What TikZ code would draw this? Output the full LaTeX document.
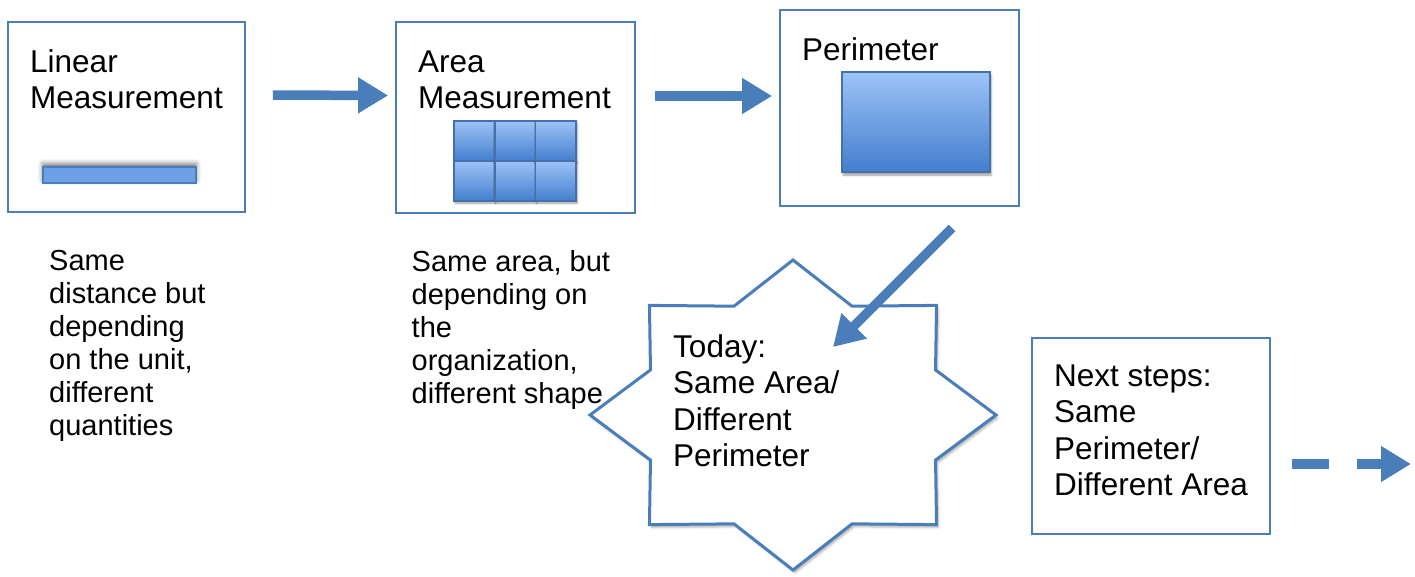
\documentclass[tikz,border=0pt]{standalone}
\usepackage{fontspec}
\setmainfont{Liberation Sans}
\usetikzlibrary{arrows.meta,shadows.blur}
\definecolor{ppblue}{RGB}{74,126,187}
\definecolor{tiletop}{RGB}{157,195,247}
\definecolor{tilebot}{RGB}{67,126,205}
\definecolor{barfill}{RGB}{110,160,230}
\tikzstyle{box}=[rectangle,draw=ppblue,line width=1.8pt,inner sep=0pt]
\tikzstyle{heading}=[anchor=north west,inner sep=0pt,align=left,font=\fontsize{31.5}{36.5}\selectfont]
\tikzstyle{note}=[anchor=north west,inner sep=0pt,align=left,font=\fontsize{29}{33}\selectfont]
\tikzstyle{bigarrow}=[draw=ppblue,line width=9.5pt,-{Triangle[length=30pt,width=34pt]}]
\tikzstyle{tile}=[draw=ppblue!90!black,line width=1.8pt,top color=tiletop,bottom color=tilebot]

\begin{document}
\begin{tikzpicture}[x=1pt,y=-1pt]
  \useasboundingbox (0,0) rectangle (1415,576);
  % boxes
  \node[box,minimum width=237pt,minimum height=190pt] (linear) at (126.5,117) {};
  \node[box,minimum width=239pt,minimum height=191pt] (area) at (515.5,117.5) {};
  \node[box,minimum width=239pt,minimum height=196pt] (perim) at (899.5,108) {};
  \node[box,minimum width=238pt,minimum height=196pt] (next) at (1151,436) {};
  \node[heading] (t1) at (30,49.3) {Linear\\Measurement};
  \node[heading] (t2) at (418,50.3) {Area\\Measurement};
  \node[heading] (t3) at (802,37.3) {Perimeter};
  \node[heading] (t4) at (1054,364.3) {Next steps:\\Same\\Perimeter/\\Different Area};
  % pictures inside the boxes
  \draw[fill=barfill,draw=ppblue,line width=1.5pt,
    blur shadow={shadow xshift=0pt,shadow yshift=3pt,shadow blur radius=5pt,shadow opacity=60}]
    (43,167) rectangle (196,183);
  \foreach \i in {0,1,2}
    \foreach \j in {0,1}
      \draw[tile,blur shadow={shadow xshift=1pt,shadow yshift=-2pt}]
        ({454+40.7*\i},{121+40*\j}) rectangle +(40.7,40);
  \draw[tile,blur shadow={shadow xshift=1pt,shadow yshift=-3pt}] (842,72) rectangle (990,172);
  % notes under the boxes
  \node[note] (n1) at (49,250) {Same\\distance but\\depending\\on the unit,\\different\\quantities};
  \node[note] (n2) at (411.5,250.5) {Same area, but\\depending on\\the\\organization,\\different shape};
  % star
  \coordinate (sc) at (793,415);
  \draw[line width=3pt,draw=ppblue,fill=white,
    blur shadow={shadow xshift=2pt,shadow yshift=-3pt,shadow opacity=30}]
    plot[samples at={0,...,15}]
    ({793+203*(1-0.24*mod(\x,2))*cos(22.5*\x)},{415+155*(1-0.24*mod(\x,2))*sin(22.5*\x)}) -- cycle;
  \node[heading] (today) at (673,334.3) {Today:\\Same Area/\\Different\\Perimeter};
  % arrows
  \coordinate (from) at (952,228);
  \coordinate (into) at (833,347);
  \coordinate (more) at (1411,464);
  \draw[bigarrow] ([shift={(27,-22)}]linear.east) -- ([shift={(-7,-22)}]area.west);
  \draw[bigarrow] ([shift={(19,-21.5)}]area.east) -- ([shift={(-7,-12)}]perim.west);
  \draw[bigarrow] (from) -- (into);
  \draw[bigarrow,dash pattern=on 37pt off 28pt] ([shift={(21,28)}]next.east) -- (more);
\end{tikzpicture}
\end{document}
